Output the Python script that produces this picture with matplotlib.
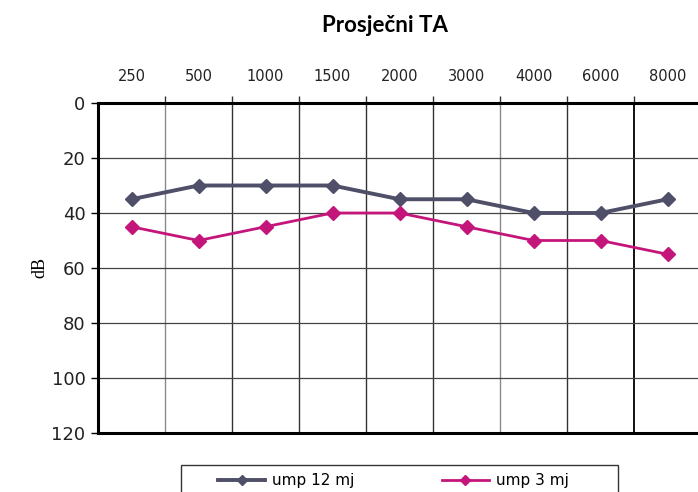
import matplotlib
matplotlib.use("Agg")
import matplotlib.pyplot as plt
from matplotlib.patches import Rectangle
import numpy as np

# --- Data ---
freqs = ["250", "500", "1000", "1500", "2000", "3000", "4000", "6000", "8000"]
ump_12 = [35, 30, 30, 30, 35, 35, 40, 40, 35]
ump_3 = [45, 50, 45, 40, 40, 45, 50, 50, 55]
y_ticks = [0, 20, 40, 60, 80, 100, 120]

plt.rcParams['font.family'] = ['DejaVu Sans']

W, H = 698, 492
fig = plt.figure(figsize=(W / 100, H / 100), dpi=100)
ax = fig.add_axes([98 / W, 59 / H, 603 / W, 330 / H])

x = np.arange(len(freqs))

# grid lines between categories (mix of grey and dark like the scan)
grid_cols = ['#8a8a8a', '#333333', '#333333', '#333333', '#333333',
             '#8a8a8a', '#333333', '#111111']
for i, c in enumerate(grid_cols):
    ax.axvline(x[i] + 0.5, color=c, lw=1.0 if i < 7 else 1.4, zorder=1)
for yv in y_ticks[1:-1]:
    ax.axhline(yv, color='#444444', lw=0.9, zorder=1)

ax.plot(x, ump_12, color='#4f4f69', lw=2.8, marker='D', markersize=7,
        label='ump 12 mj', zorder=3)
ax.plot(x, ump_3, color='#c4157a', lw=2.0, marker='D', markersize=7,
        label='ump 3 mj', zorder=3)

ax.set_xlim(-0.5, len(freqs) - 0.5)
ax.set_ylim(120, 0)

ax.xaxis.tick_top()
ax.set_xticks(x)
ax.set_xticklabels(freqs, fontsize=10.5, color='#222222')
ax.set_xticks(x[:-1] + 0.5, minor=True)
ax.tick_params(axis='x', which='major', length=0, pad=14)
ax.tick_params(axis='x', which='minor', length=5, width=1, color='#333333',
               top=True, bottom=False)

ax.set_yticks(y_ticks)
ax.set_yticklabels([str(v) for v in y_ticks], fontsize=13, color='#222222')
ax.tick_params(axis='y', length=5, width=1, pad=4)

for s in ['top', 'bottom', 'left']:
    ax.spines[s].set_linewidth(2.2)
    ax.spines[s].set_color('black')
ax.spines['right'].set_visible(False)

fig.text(40 / W, 1 - 268 / H, 'dB', rotation=90, ha='center', va='center',
         fontsize=13, family='Liberation Serif')

fig.text(385 / W, 1 - 25 / H, 'Prosječni TA', ha='center', va='center',
         fontsize=16, fontweight='bold', family='Lato')

# legend box (cut by the bottom edge like the reference)
fig.patches.append(Rectangle((181 / W, -0.05), 437 / W, 0.05 + 27 / H,
                             transform=fig.transFigure, fill=False,
                             edgecolor='#333333', lw=1.0))
leg = fig.legend(loc='upper left', bbox_to_anchor=(218 / W, 1 - 473 / H),
                 ncol=2, frameon=False, fontsize=11, handlelength=3.1,
                 columnspacing=5.7, borderpad=0, markerscale=0.7,
                 handletextpad=0.45, borderaxespad=0)

fig.savefig('out.png', dpi=100)
